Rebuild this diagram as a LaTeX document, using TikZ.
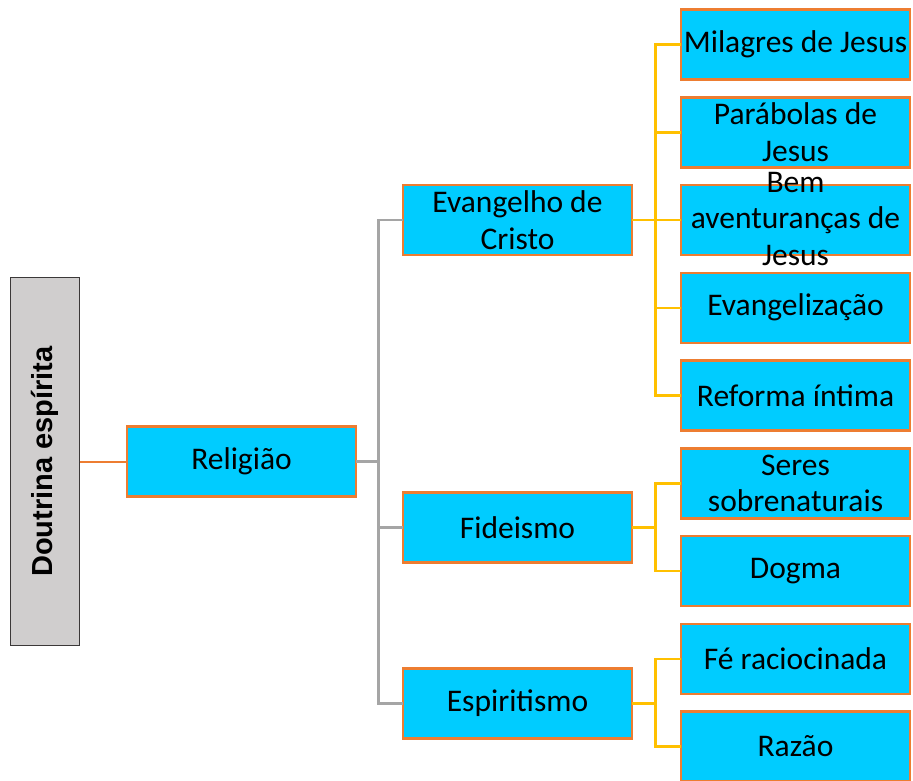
\documentclass[tikz,border=0pt]{standalone}
\usepackage{fontspec}
\setmainfont{Carlito}
\newfontfamily\rootfont{Liberation Sans}
\usetikzlibrary{positioning}
\definecolor{boxcyan}{HTML}{00CCFF}
\definecolor{boxorange}{HTML}{ED7D31}
\definecolor{rootgrey}{HTML}{D0CECE}
\definecolor{rootedge}{HTML}{3B3838}
\definecolor{buscgrey}{HTML}{A5A5A5}
\definecolor{busyellow}{HTML}{FFC000}
% text that may spill over its box
\newcommand{\spill}[1]{\raisebox{-0.25em}[0pt][0pt]{\begin{tabular}{@{}c@{}}#1\end{tabular}}}

\begin{document}
\begin{tikzpicture}[
  x=1pt, y=-1pt,
  font=\fontsize{31.5}{36.5}\selectfont,
  line join=miter,
  box/.style={
    draw=boxorange, fill=boxcyan, line width=2.5pt, outer sep=0pt,
    align=center, inner sep=0pt, minimum width=229pt, minimum height=70pt
  },
  rootbox/.style={
    draw=rootedge, fill=rootgrey, line width=1.5pt, outer sep=0pt,
    inner sep=0pt, minimum width=69pt, minimum height=368pt,
    font=\rootfont\bfseries\fontsize{29}{34}\selectfont
  },
  rootlink/.style={draw=boxorange, line width=2pt},
  catlink/.style={draw=buscgrey, line width=2.8pt},
  leaflink/.style={draw=busyellow, line width=2.5pt}
]
\useasboundingbox (0,0) rectangle (913,780);
\def\xA{241.5}
\def\xB{517.5}
\def\xC{795.5}
\node[rootbox] (root) at (45,461.5) {\rotatebox{90}{Doutrina espírita}};
\node[box] (rel) at (\xA,461.5) {Religião};
% second level
\node[box] (evan) at (\xB,220)    {Evangelho de\\Cristo};
\node[box] (fide) at (\xB,527.5)  {Fideismo};
\node[box] (espi) at (\xB,703.25) {Espiritismo};
% leaves
\node[box] (mil) at (\xC,44.5)   {Milagres de Jesus};
\node[box, below=17.75pt of mil] (par) {Parábolas de\\Jesus};
\node[box, below=17.75pt of par] (bem) {\spill{Bem\\aventuranças de\\Jesus}};
\node[box, below=17.75pt of bem] (evz) {Evangelização};
\node[box, below=17.75pt of evz] (ref) {Reforma íntima};
\node[box, below=17.75pt of ref] (ser) {Seres\\sobrenaturais};
\node[box, below=17.75pt of ser] (dog) {Dogma};
\node[box, below=17.75pt of dog] (fer) {Fé raciocinada};
\node[box, below=17.75pt of fer] (raz) {Razão};
% connectors
\draw[rootlink] (root.east) -- (rel.west);
\foreach \c in {evan,fide,espi}
  \draw[catlink] (rel.east) -- ++(22.5,0) |- (\c.west);
\foreach \l in {mil,par,bem,evz,ref}
  \draw[leaflink] (evan.east) -- ++(23.5,0) |- (\l.west);
\foreach \l in {ser,dog}
  \draw[leaflink] (fide.east) -- ++(23.5,0) |- (\l.west);
\foreach \l in {fer,raz}
  \draw[leaflink] (espi.east) -- ++(23.5,0) |- (\l.west);
\end{tikzpicture}
\end{document}
